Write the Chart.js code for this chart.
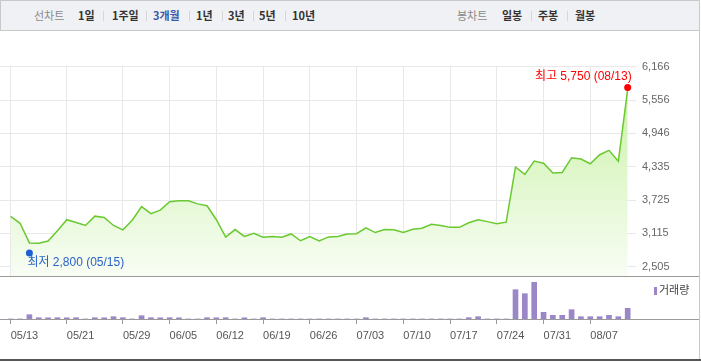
<!DOCTYPE html>
<html>
<head>
<meta charset="utf-8">
<script src="https://cdn.jsdelivr.net/npm/chart.js@4.4.1/dist/chart.umd.min.js"></script>
<style>
  body { margin: 0; background: #fff; }
  #wrap { position: relative; width: 701px; height: 362px; overflow: hidden; font-family: "Liberation Sans", "Noto Sans CJK KR", sans-serif; }
  .hd { position: absolute; left: 0; top: 0; width: 700px; height: 31px; box-sizing: border-box; border: 1px solid #c9c9c9; background: #f0f1f4; }
  .hd span { position: absolute; top: 7px; font-size: 11px; line-height: 14px; white-space: nowrap; font-family: "Noto Sans CJK KR", sans-serif; }
  .hd .g { color: #8a8a8a; }
  .hd .b { color: #333; font-weight: bold; }
  .hd .on { color: #3a57a8; font-weight: bold; }
  .hd .sep { width: 1px; height: 10px; top: 10px; background: #d6d6d6; }
  canvas { position: absolute; left: 0; }
  .ln { position: absolute; left: 0; height: 1px; width: 700px; background: #9a9a9a; }
  .legend { position: absolute; left: 654px; top: 283px; font-size: 11px; color: #444; font-family: "Noto Sans CJK KR", sans-serif; line-height: 12px; }
  .legend i { display: inline-block; width: 3px; height: 8px; background: #9b87c7; margin-right: 2px; vertical-align: -1px; }
</style>
</head>
<body>
<div id="wrap">
  <div class="hd">
    <span class="g" style="left:33px">선차트</span>
    <span class="b" style="left:77px">1일</span>
    <span class="sep" style="left:102px"></span>
    <span class="b" style="left:111px">1주일</span>
    <span class="sep" style="left:145px"></span>
    <span class="on" style="left:152px">3개월</span>
    <span class="sep" style="left:188px"></span>
    <span class="b" style="left:195px">1년</span>
    <span class="sep" style="left:221px"></span>
    <span class="b" style="left:227px">3년</span>
    <span class="sep" style="left:252px"></span>
    <span class="b" style="left:258px">5년</span>
    <span class="sep" style="left:284px"></span>
    <span class="b" style="left:291px">10년</span>
    <span class="g" style="left:456px">봉차트</span>
    <span class="b" style="left:501px">일봉</span>
    <span class="sep" style="left:530px"></span>
    <span class="b" style="left:537px">주봉</span>
    <span class="sep" style="left:566px"></span>
    <span class="b" style="left:574px">월봉</span>
  </div>
  <canvas id="price" width="699" height="245" style="top:31px"></canvas>
  <canvas id="vol" width="699" height="70" style="top:276px"></canvas>
  <div class="ln" style="top:276px"></div>
  <div class="ln" style="top:319px"></div>
  <div style="position:absolute;left:699px;top:0;width:1px;height:360px;background:#c9c9c9"></div>
  <div style="position:absolute;left:0;top:359px;width:701px;height:2px;background:#555"></div>
  <div class="legend"><i></i>거래량</div>
</div>
<script>
// trading days shown on the chart
const dates = [
  '05/13', '05/14', '05/15', '05/16', '05/17', '05/20', '05/21', '05/22', '05/23', '05/24',
  '05/27', '05/28', '05/29', '05/30', '05/31', '06/03', '06/04', '06/05', '06/06', '06/07',
  '06/10', '06/11', '06/12', '06/13', '06/14', '06/17', '06/18', '06/19', '06/20', '06/21',
  '06/24', '06/25', '06/26', '06/27', '06/28', '07/01', '07/02', '07/03', '07/04', '07/05',
  '07/08', '07/09', '07/10', '07/11', '07/12', '07/15', '07/16', '07/17', '07/18', '07/19',
  '07/22', '07/23', '07/24', '07/25', '07/26', '07/29', '07/30', '07/31', '08/01', '08/02',
  '08/05', '08/06', '08/07', '08/08', '08/09', '08/12', '08/13',
];

// closing prices
const closes = [
  3425, 3300, 2940, 2935, 2975, 3165, 3365, 3315, 3260, 3430,
  3405, 3260, 3180, 3355, 3605, 3475, 3540, 3695, 3710, 3710,
  3655, 3620, 3365, 3045, 3185, 3060, 3115, 3045, 3060, 3045,
  3105, 2980, 3055, 2975, 3050, 3060, 3105, 3110, 3215, 3130,
  3185, 3180, 3130, 3190, 3210, 3280, 3260, 3225, 3225, 3310,
  3365, 3330, 3290, 3320, 4330, 4195, 4440, 4400, 4220, 4230,
  4500, 4475, 4390, 4555, 4635, 4435, 5750,
];

// volume (thousand shares)
const volumes = [
  5, 5, 430, 130, 120, 130, 120, 130, 5, 130,
  120, 230, 130, 5, 330, 130, 120, 130, 120, 5,
  5, 130, 120, 130, 5, 120, 5, 130, 5, 5,
  5, 5, 5, 5, 5, 5, 5, 5, 130, 5,
  5, 5, 5, 5, 5, 5, 5, 5, 5, 130,
  230, 5, 5, 5, 2930, 2530, 3670, 670, 370, 370,
  930, 230, 230, 230, 370, 230, 1070,
];

const xTickDates = ['05/13', '05/21', '05/29', '06/05', '06/12', '06/19', '06/26', '07/03', '07/10', '07/17', '07/24', '07/31', '08/07'];
const priceTicks = [2505, 3115, 3725, 4335, 4946, 5556, 6166];

const highValue = 5750;
const highDate = '08/13';
const lowValue = 2800;
const lowDate = '05/15';

const xMin = -1.145;
const xMax = 66.89;
const xTickIdx = xTickDates.map((d) => dates.indexOf(d));

function setXTicks(scale) {
  scale.ticks = xTickIdx.map((v) => ({ value: v }));
}

const markers = {
  id: 'markers',
  afterDatasetsDraw(chart) {
    const { ctx } = chart;
    const x = chart.scales.x;
    const y = chart.scales.y;
    ctx.save();
    ctx.font = '12px "Liberation Sans", "Noto Sans CJK KR", sans-serif';
    ctx.textBaseline = 'middle';

    const hx = x.getPixelForValue(dates.indexOf(highDate));
    const hy = y.getPixelForValue(highValue) - 2;
    ctx.fillStyle = '#ff0000';
    ctx.beginPath();
    ctx.arc(hx, hy, 3.5, 0, Math.PI * 2);
    ctx.fill();
    ctx.textAlign = 'right';
    ctx.fillText(`최고 ${highValue.toLocaleString('en-US')} (${highDate})`, hx + 4, hy - 11);

    const lx = x.getPixelForValue(dates.indexOf(lowDate));
    const ly = y.getPixelForValue(lowValue) + 2.5;
    ctx.fillStyle = '#1f5fd6';
    ctx.beginPath();
    ctx.arc(lx, ly, 3.5, 0, Math.PI * 2);
    ctx.fill();
    ctx.fillStyle = '#2a62c9';
    ctx.textAlign = 'left';
    ctx.fillText(`최저 ${lowValue.toLocaleString('en-US')} (${lowDate})`, lx - 2, ly + 10);
    ctx.restore();
  },
};

new Chart(document.getElementById('price'), {
  type: 'line',
  data: {
    datasets: [
      {
        data: closes.map((v, i) => ({ x: i, y: v })),
        borderColor: '#69c930',
        borderWidth: 1.5,
        pointRadius: 0,
        tension: 0,
        fill: 'start',
        backgroundColor: (c) => {
          const area = c.chart.chartArea;
          if (!area) return 'rgba(200,240,160,0.5)';
          const g = c.chart.ctx.createLinearGradient(0, area.top, 0, area.bottom);
          g.addColorStop(0, '#c6f09e');
          g.addColorStop(0.6, '#e4f8d3');
          g.addColorStop(1, '#f8fdf4');
          return g;
        },
      },
    ],
  },
  options: {
    responsive: false,
    animation: false,
    layout: { padding: { top: 35.7, left: 0, right: 0, bottom: 0 } },
    plugins: { legend: { display: false }, tooltip: { enabled: false } },
    scales: {
      x: {
        type: 'linear',
        min: xMin,
        max: xMax,
        grid: { color: '#e8e8e8', drawTicks: false },
        border: { display: false },
        ticks: { display: false },
        afterBuildTicks: setXTicks,
        afterFit: (s) => {
          s.height = 0;
        },
      },
      y: {
        position: 'right',
        min: 2334.8,
        max: 6166,
        grid: { color: '#e8e8e8', drawTicks: false },
        border: { display: false },
        ticks: {
          padding: 6,
          color: '#666',
          font: { size: 11, family: '"Liberation Sans", sans-serif' },
          callback: (v) => v.toLocaleString('en-US'),
        },
        afterBuildTicks: (s) => {
          s.ticks = priceTicks.map((v) => ({ value: v }));
        },
        afterFit: (s) => {
          s.width = 63;
          s.paddingTop = 0;
          s.paddingBottom = 0;
        },
      },
    },
  },
  plugins: [markers],
});

new Chart(document.getElementById('vol'), {
  type: 'bar',
  data: {
    datasets: [
      {
        data: volumes.map((v, i) => ({ x: i, y: v })),
        backgroundColor: '#9b87c7',
        barThickness: 5,
        borderWidth: 0,
      },
    ],
  },
  options: {
    responsive: false,
    animation: false,
    layout: { padding: { top: 0, left: 0, right: 63, bottom: 0 } },
    plugins: { legend: { display: false }, tooltip: { enabled: false } },
    scales: {
      x: {
        type: 'linear',
        min: xMin,
        max: xMax,
        offset: false,
        grid: { display: true, drawOnChartArea: false, drawTicks: true, tickLength: 5, color: '#999', offset: false },
        border: { display: false },
        ticks: {
          align: 'start',
          padding: 5,
          color: '#555',
          autoSkip: false,
          maxRotation: 0,
          font: { size: 11, family: '"Liberation Sans", sans-serif' },
          callback: (v) => dates[v],
        },
        afterBuildTicks: setXTicks,
        afterFit: (s) => {
          s.height = 27;
        },
      },
      y: { display: false, min: 0, max: 4300 },
    },
  },
});
</script>
</body>
</html>
